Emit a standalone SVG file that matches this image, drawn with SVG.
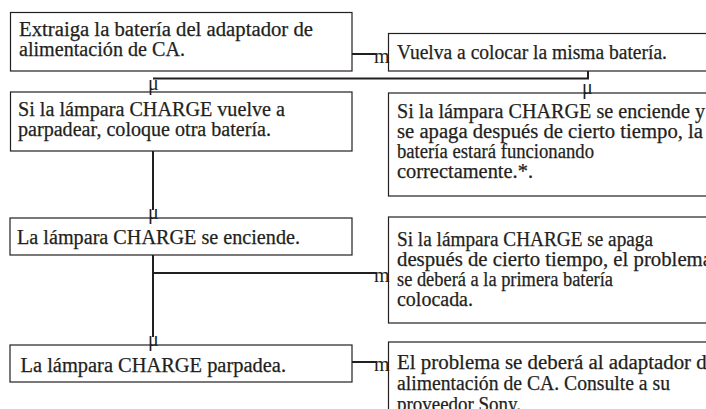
<svg xmlns="http://www.w3.org/2000/svg" width="706" height="409" viewBox="0 0 706 409">
<style>
.box{fill:#fff;stroke:#231f20;stroke-width:1.2}
.t{font-family:"Liberation Serif",serif;font-size:20px;fill:#231f20;stroke:#231f20;stroke-width:0.25}
.c{fill:none;stroke:#231f20;stroke-width:2}
.g{font-family:"Liberation Serif",serif;font-size:20px;fill:#231f20}
</style>
<rect width="706" height="409" fill="#fff"/>
<g id="n1">
<rect class="box" x="10.5" y="12.5" width="341.5" height="58.5"/>
<text class="t" x="19" y="35.5" textLength="294" lengthAdjust="spacingAndGlyphs">Extraiga la batería del adaptador de</text>
<text class="t" x="19" y="55.5" textLength="166" lengthAdjust="spacingAndGlyphs">alimentación de CA.</text>
</g>
<g id="n2">
<rect class="box" x="388.5" y="33.5" width="330" height="37.5"/>
<text class="t" x="397" y="58.5" textLength="270" lengthAdjust="spacingAndGlyphs">Vuelva a colocar la misma batería.</text>
</g>
<g id="n3">
<rect class="box" x="10.5" y="92" width="341.5" height="59"/>
<text class="t" x="18" y="116" textLength="267" lengthAdjust="spacingAndGlyphs">Si la lámpara CHARGE vuelve a</text>
<text class="t" x="18" y="136" textLength="253" lengthAdjust="spacingAndGlyphs">parpadear, coloque otra batería.</text>
</g>
<g id="n4">
<rect class="box" x="388.5" y="93" width="330" height="103"/>
<text class="t" x="397" y="118" textLength="308" lengthAdjust="spacingAndGlyphs">Si la lámpara CHARGE se enciende y</text>
<text class="t" x="397" y="138" textLength="306" lengthAdjust="spacingAndGlyphs">se apaga después de cierto tiempo, la</text>
<text class="t" x="397" y="158" textLength="197" lengthAdjust="spacingAndGlyphs">batería estará funcionando</text>
<text class="t" x="397" y="178" textLength="136" lengthAdjust="spacingAndGlyphs">correctamente.*.</text>
</g>
<g id="n5">
<rect class="box" x="10" y="218" width="342" height="37"/>
<text class="t" x="17" y="243.5" textLength="283" lengthAdjust="spacingAndGlyphs">La lámpara CHARGE se enciende.</text>
</g>
<g id="n6">
<rect class="box" x="388.5" y="217" width="330" height="106"/>
<text class="t" x="397" y="246" textLength="256" lengthAdjust="spacingAndGlyphs">Si la lámpara CHARGE se apaga</text>
<text class="t" x="397" y="266" textLength="315" lengthAdjust="spacingAndGlyphs">después de cierto tiempo, el problema</text>
<text class="t" x="397" y="286" textLength="216" lengthAdjust="spacingAndGlyphs">se deberá a la primera batería</text>
<text class="t" x="397" y="306" textLength="76" lengthAdjust="spacingAndGlyphs">colocada.</text>
</g>
<g id="n7">
<rect class="box" x="10" y="345" width="342" height="37"/>
<text class="t" x="20.5" y="372" textLength="265.5" lengthAdjust="spacingAndGlyphs">La lámpara CHARGE parpadea.</text>
</g>
<g id="n8">
<rect class="box" x="388.5" y="342" width="330" height="80"/>
<text class="t" x="397" y="368.5" textLength="319" lengthAdjust="spacingAndGlyphs">El problema se deberá al adaptador de</text>
<text class="t" x="397" y="390" textLength="273" lengthAdjust="spacingAndGlyphs">alimentación de CA. Consulte a su</text>
<text class="t" x="397" y="411" textLength="124" lengthAdjust="spacingAndGlyphs">proveedor Sony.</text>
</g>
<g id="connectors">
<path class="c" d="M352 54H376"/>
<text class="g" x="374" y="63">m</text>
<path class="c" d="M588 71V78.5H153"/>
<text class="g" x="148" y="90">μ</text>
<text class="g" x="582" y="94">μ</text>
<path class="c" d="M153 151V210"/>
<text class="g" x="148" y="219">μ</text>
<path class="c" d="M153 255V337"/>
<text class="g" x="148" y="346">μ</text>
<path class="c" d="M153 273H376"/>
<text class="g" x="374" y="282">m</text>
<path class="c" d="M352 362H376"/>
<text class="g" x="374" y="371">m</text>
</g>
</svg>
